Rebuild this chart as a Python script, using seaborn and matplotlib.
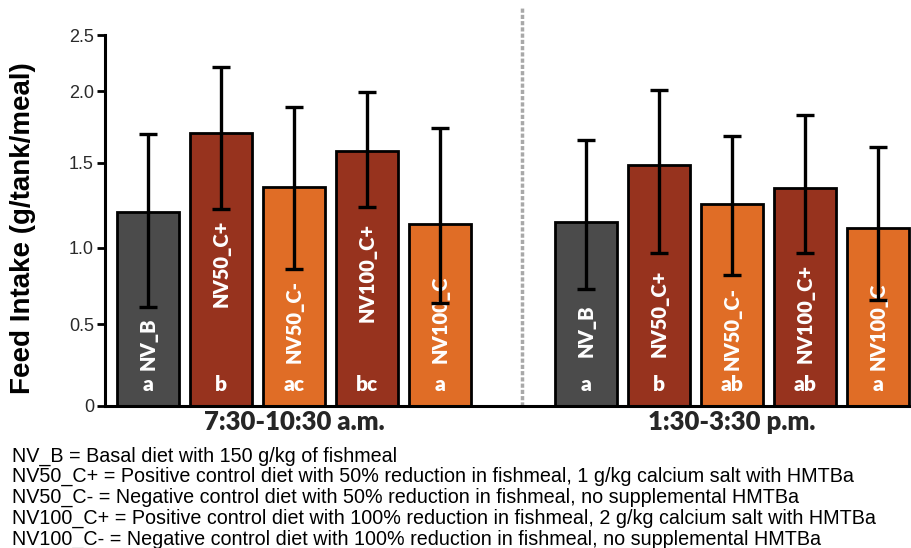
import numpy as np
import pandas as pd
import matplotlib
matplotlib.use("Agg")
import matplotlib.pyplot as plt
import seaborn as sns

# ---------------- data ----------------
groups = ["7:30-10:30 a.m.", "1:30-3:30 p.m."]
diets = ["NV_B", "NV50_C+", "NV50_C-", "NV100_C+", "NV100_C-"]

am_mean = [1.21, 1.71, 1.36, 1.58, 1.14]
am_low = [0.61, 1.23, 0.86, 1.24, 0.64]
am_high = [1.70, 2.21, 1.89, 1.99, 1.74]
am_letters = ["a", "b", "ac", "bc", "a"]

pm_mean = [1.15, 1.49, 1.26, 1.35, 1.12]
pm_low = [0.73, 0.97, 0.82, 0.97, 0.66]
pm_high = [1.66, 2.01, 1.69, 1.83, 1.61]
pm_letters = ["a", "b", "ab", "ab", "a"]

y_ticks = [0, 0.5, 1.0, 1.5, 2.0, 2.5]
y_ticklabels = ["0", "0.5", "1.0", "1.5", "2.0", "2.5"]
y_label = "Feed Intake (g/tank/meal)"

footnotes = [
    "NV_B = Basal diet with 150 g/kg of fishmeal",
    "NV50_C+ = Positive control diet with 50% reduction in fishmeal, 1 g/kg calcium salt with HMTBa",
    "NV50_C- = Negative control diet with 50% reduction in fishmeal, no supplemental HMTBa",
    "NV100_C+ = Positive control diet with 100% reduction in fishmeal, 2 g/kg calcium salt with HMTBa",
    "NV100_C- = Negative control diet with 100% reduction in fishmeal, no supplemental HMTBa",
]

# ---------------- styles / layout ----------------
palette = {"NV_B": "#4b4b4b", "NV50_C+": "#97331e", "NV50_C-": "#e06d26",
           "NV100_C+": "#97331e", "NV100_C-": "#e06d26"}
group_offset = [0, 6]
# tick positions of the (irregular) printed axis, as axis fractions
tick_frac = [0.0, 0.221, 0.426, 0.655, 0.849, 1.0]
label_base = [0.22, 0.61, 0.26, 0.51, 0.26, 0.30, 0.30, 0.22, 0.26, 0.22]

W, H = 911, 548
sns.set_theme(style="white")
plt.rcParams["font.family"] = ["Liberation Sans", "DejaVu Sans"]

rows = []
for g, off, means, lows, highs, lets in [
    (groups[0], group_offset[0], am_mean, am_low, am_high, am_letters),
    (groups[1], group_offset[1], pm_mean, pm_low, pm_high, pm_letters),
]:
    for i, d in enumerate(diets):
        rows.append(dict(group=g, diet=d, pos=off + i, mean=means[i],
                         low=lows[i], high=highs[i], letter=lets[i]))
df = pd.DataFrame(rows)

fig = plt.figure(figsize=(W / 100, H / 100), dpi=100)
ax = fig.add_axes([105 / W, (H - 406) / H, (W - 105) / W, (406 - 35) / H])

# piecewise-linear y scale reproducing the printed axis
xs = np.array([-2.5] + y_ticks + [5.0])
slope_lo = tick_frac[1] / 0.5
slope_hi = (tick_frac[-1] - tick_frac[-2]) / 0.5
fs = np.array([-2.5 * slope_lo] + tick_frac + [1.0 + 2.5 * slope_hi])
ax.set_yscale("function", functions=(lambda v: np.interp(v, xs, fs),
                                     lambda f: np.interp(f, fs, xs)))

sns.barplot(data=df, x="pos", y="mean", hue="diet", palette=palette,
            native_scale=True, dodge=False, width=0.84, legend=False,
            errorbar=None, edgecolor="black", linewidth=2.0, ax=ax,
            saturation=1)

ax.errorbar(df["pos"], df["mean"],
            yerr=[df["mean"] - df["low"], df["high"] - df["mean"]],
            fmt="none", ecolor="black", elinewidth=2.4, capsize=6.5,
            capthick=2.4, zorder=5)

bar_font = ["Lato", "DejaVu Sans"]
for k, r in df.iterrows():
    ax.text(r["pos"], label_base[k], r["diet"], rotation=90, color="white",
            ha="center", va="bottom", fontsize=14.5, fontweight="heavy",
            family=bar_font, zorder=4)
    ax.text(r["pos"], 0.13, r["letter"], color="white", ha="center",
            va="center", fontsize=15, fontweight="heavy", family=bar_font,
            zorder=4)

ax.set_xlim(-0.59, 10.45)
ax.set_ylim(0, 2.5)
ax.set_yticks(y_ticks)
ax.set_yticklabels(y_ticklabels, fontsize=13, color="#2a2a2a")
ax.set_xticks([2, 8])
ax.set_xticklabels(groups, fontsize=18.5, fontweight="heavy", family=bar_font)
ax.tick_params(axis="x", length=0, pad=3)
ax.tick_params(axis="y", length=6, width=2, direction="out", pad=2,
               left=True, color="black")
ax.set_xlabel("")
ax.set_ylabel("")
for s in ["top", "right"]:
    ax.spines[s].set_visible(False)
for s in ["left", "bottom"]:
    ax.spines[s].set_color("black")
    ax.spines[s].set_linewidth(2.2)

# separator between the two feeding periods
ax.axvline(5.12, ymin=0, ymax=(406 - 8) / (406 - 35), color="#a8a8a8",
           linestyle=(0, (1.2, 0.6)), linewidth=2.5, clip_on=False, zorder=0)

fig.text(23 / W, 1 - 228 / H, y_label, rotation=90, ha="center", va="center",
         fontsize=20, fontweight="bold", color="black")

foot_font = ["Liberation Sans", "DejaVu Sans"]
for i, line in enumerate(footnotes):
    fig.text(12 / W, 1 - (456 + i * 20.8) / H, line, ha="left", va="center",
             fontsize=14.2, family=foot_font, color="black")

fig.savefig("out.png", dpi=100)
